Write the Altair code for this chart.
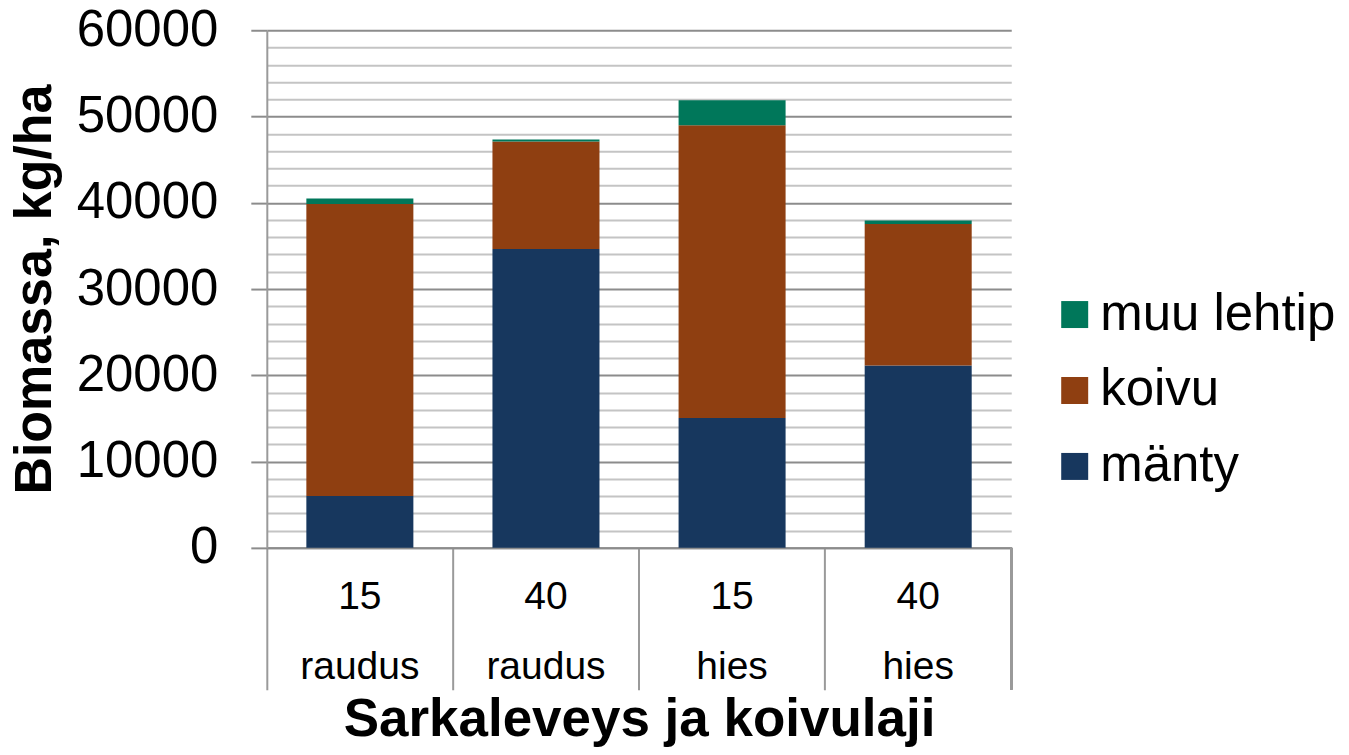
import altair as alt
import pandas as pd

categories = ["15|raudus", "40|raudus", "15|hies", "40|hies"]
manty = [6000, 34650, 15050, 21150]
koivu = [33850, 12450, 33950, 16400]
muu = [650, 250, 2900, 400]

series_names = ["mänty", "koivu", "muu lehtip"]
series_values = [manty, koivu, muu]
colors = {"muu lehtip": "#00775a", "koivu": "#8f3f11", "mänty": "#17375e"}

rows = []
for si, (name, vals) in enumerate(zip(series_names, series_values)):
    for c, v in zip(categories, vals):
        rows.append({"cat": c, "series": name, "value": v, "ord": si})
df = pd.DataFrame(rows)

FONT = "Liberation Sans"
W, H = 745, 518
P_IN = 0.425

bars = alt.Chart(df).mark_bar().encode(
    x=alt.X("cat:N", sort=categories,
            scale=alt.Scale(paddingInner=P_IN, paddingOuter=P_IN / 2),
            axis=alt.Axis(title="Sarkaleveys ja koivulaji",
                          labelExpr="split(datum.label, '|')",
                          labelAngle=0, labelFontSize=39, labelFont=FONT,
                          labelColor="#000", labelLineHeight=70,
                          labelPadding=-112, labelBaseline="top",
                          bandPosition=-(P_IN / 2) / (1 - P_IN),
                          tickSize=142, tickWidth=2,
                          tickColor="#9a9a9a", domainColor="#8c8c8c",
                          domainWidth=2,
                          titleFont=FONT, titleFontSize=53,
                          titleFontWeight="bold", titleColor="#000",
                          titleX=W / 2, titleY=172, titleBaseline="middle",
                          titleAlign="center")),
    y=alt.Y("value:Q", stack="zero",
            scale=alt.Scale(domain=[0, 60000], nice=False),
            axis=alt.Axis(title="Biomassa, kg/ha",
                          values=list(range(0, 60001, 2000)),
                          format="d",
                          labelExpr="datum.value % 10000 === 0 ? datum.label : ''",
                          labelFontSize=51, labelFont=FONT, labelColor="#000",
                          labelPadding=33, labelBaseline="middle",
                          tickSize=16, tickWidth=2,
                          tickColor=alt.condition("datum.value % 10000 === 0",
                                                  alt.value("#8c8c8c"),
                                                  alt.value("transparent")),
                          grid=True, gridWidth=2,
                          gridColor=alt.condition("datum.value % 10000 === 0",
                                                  alt.value("#8c8c8c"),
                                                  alt.value("#c4c4c4")),
                          domainColor="#9a9a9a", domainWidth=2,
                          titleFont=FONT, titleFontSize=52,
                          titleFontWeight="bold", titleColor="#000",
                          titleAngle=270, titleX=-232, titleY=H / 2,
                          titleAlign="center", titleBaseline="middle")),
    color=alt.Color("series:N",
                    scale=alt.Scale(domain=list(colors.keys()),
                                    range=list(colors.values())),
                    legend=alt.Legend(title=None, orient="none",
                                      legendX=783, legendY=259,
                                      symbolType="square", symbolSize=729,
                                      symbolStrokeWidth=0, symbolOpacity=1,
                                      labelFontSize=51, labelFont=FONT,
                                      labelColor="#000", labelOffset=0,
                                      labelLimit=400,
                                      rowPadding=24)),
    order=alt.Order("ord:Q", sort="ascending"),
)

right_border = alt.Chart(df).mark_rule(color="#9a9a9a", strokeWidth=2).encode(
    x=alt.value(W), y=alt.value(H), y2=alt.value(H + 142)
)

chart = alt.layer(bars, right_border).properties(
    width=W, height=H,
    autosize=alt.AutoSizeParams(type="none"),
    padding={"left": 259, "top": 22, "right": 330, "bottom": 200},
).configure_view(stroke=None)

chart.save("out.html", embed_options={"renderer": "svg", "actions": False})
